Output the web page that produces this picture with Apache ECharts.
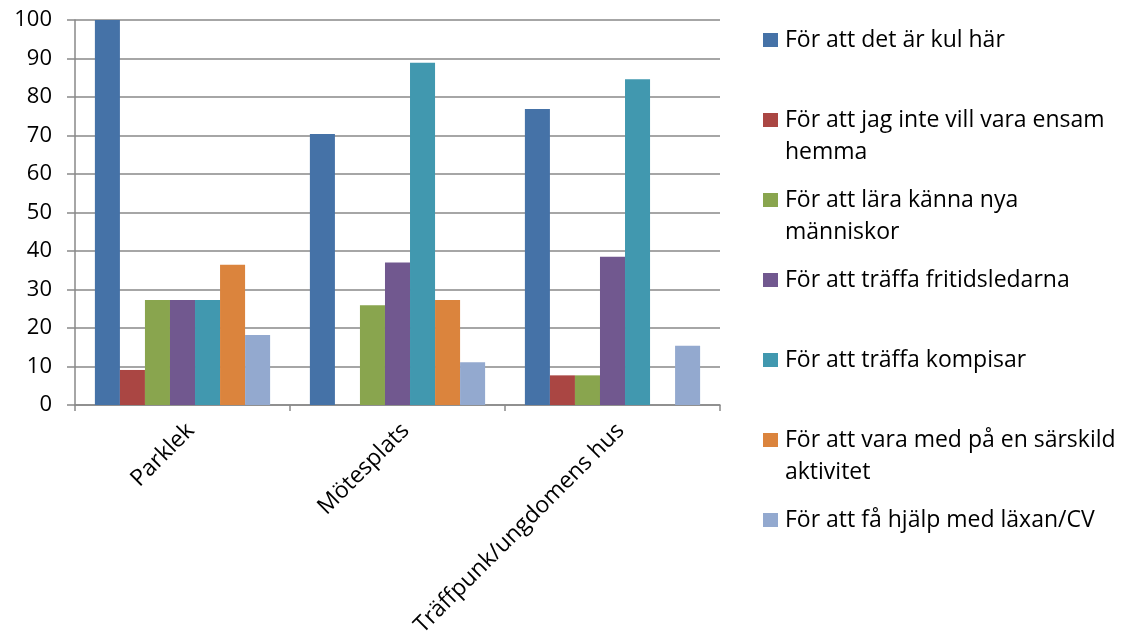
<!DOCTYPE html>
<html>
<head>
<meta charset="utf-8">
<script src="https://cdn.jsdelivr.net/npm/echarts@6/dist/echarts.min.js"></script>
<style>html,body{margin:0;padding:0;background:#fff;}#c{width:1122px;height:641px;}</style>
</head>
<body>
<div id="c"></div>
<script>
const categories = ['Parklek', 'Mötesplats', 'Träffpunk/ungdomens hus'];
const seriesNames = [
  'För att det är kul här',
  'För att jag inte vill vara ensam\nhemma',
  'För att lära känna nya\nmänniskor',
  'För att träffa fritidsledarna',
  'För att träffa kompisar',
  'För att vara med på en särskild\naktivitet',
  'För att få hjälp med läxan/CV'
];
const kulHar = [100, 70.4, 76.9];
const ensam = [9.1, 0, 7.7];
const nyaManniskor = [27.3, 25.9, 7.7];
const fritidsledarna = [27.3, 37.0, 38.5];
const kompisar = [27.3, 88.9, 84.6];
const aktivitet = [36.4, 27.3, 0];
const laxan = [18.2, 11.1, 15.4];
const yTicks = [0, 10, 20, 30, 40, 50, 60, 70, 80, 90, 100];

const values = [kulHar, ensam, nyaManniskor, fritidsledarna, kompisar, aktivitet, laxan];
const colors = ['#4572A7', '#AA4643', '#89A54E', '#71588F', '#4198AF', '#DB843D', '#93A9CF'];
const legendCenters = [40, 120, 200, 280, 360, 440, 520];
const FONT = 'Open Sans';
const FS = 23;
const LH = 32;

const chart = echarts.init(document.getElementById('c'));
const multiIcon = 'path://M0,0L0.01,0L0.01,0.01Z' +
  'M0,' + (LH / 2 - 7) + 'L15,' + (LH / 2 - 7) + 'L15,' + (LH / 2 + 7) + 'L0,' + (LH / 2 + 7) + 'Z' +
  'M0,' + (2 * LH) + 'L0.01,' + (2 * LH) + 'L0.01,' + (2 * LH - 0.01) + 'Z';

const legends = seriesNames.map((n, i) => {
  const multi = n.indexOf('\n') >= 0;
  return {
    left: 763,
    top: legendCenters[i] - LH / 2,
    orient: 'vertical',
    icon: multi ? multiIcon : 'rect',
    symbolKeepAspect: false,
    itemWidth: 15,
    itemHeight: multi ? 2 * LH : 14,
    itemGap: 0,
    padding: 0,
    selectedMode: false,
    data: [n],
    textStyle: { fontFamily: FONT, fontSize: FS, color: '#000', lineHeight: LH, padding: [0, 0, 0, 2] }
  };
});

chart.setOption({
  animation: false,
  color: colors,
  legend: legends,
  grid: { left: 75, right: 402, top: 20, bottom: 236, containLabel: false },
  xAxis: {
    type: 'category',
    data: categories,
    axisLine: { lineStyle: { color: '#898989', width: 1.5 } },
    axisTick: { show: true, alignWithLabel: false, length: 6, lineStyle: { color: '#898989', width: 1.5 } },
    axisLabel: { rotate: 45, fontFamily: FONT, fontSize: FS, color: '#000', margin: 14, interval: 0, verticalAlign: 'top' }
  },
  yAxis: {
    type: 'value',
    min: yTicks[0],
    max: yTicks[yTicks.length - 1],
    interval: 10,
    axisLine: { show: true, lineStyle: { color: '#898989', width: 1.5 } },
    axisTick: { show: true, length: 8, inside: false, lineStyle: { color: '#898989', width: 1.5 } },
    splitLine: { lineStyle: { color: '#898989', width: 1.5 } },
    axisLabel: { fontFamily: FONT, fontSize: 22, color: '#000', margin: 23 }
  },
  series: seriesNames.map((n, i) => ({
    name: n,
    type: 'bar',
    data: values[i],
    barGap: '0%',
    barCategoryGap: '18.5%',
    itemStyle: { color: colors[i] }
  }))
});
</script>
</body>
</html>
